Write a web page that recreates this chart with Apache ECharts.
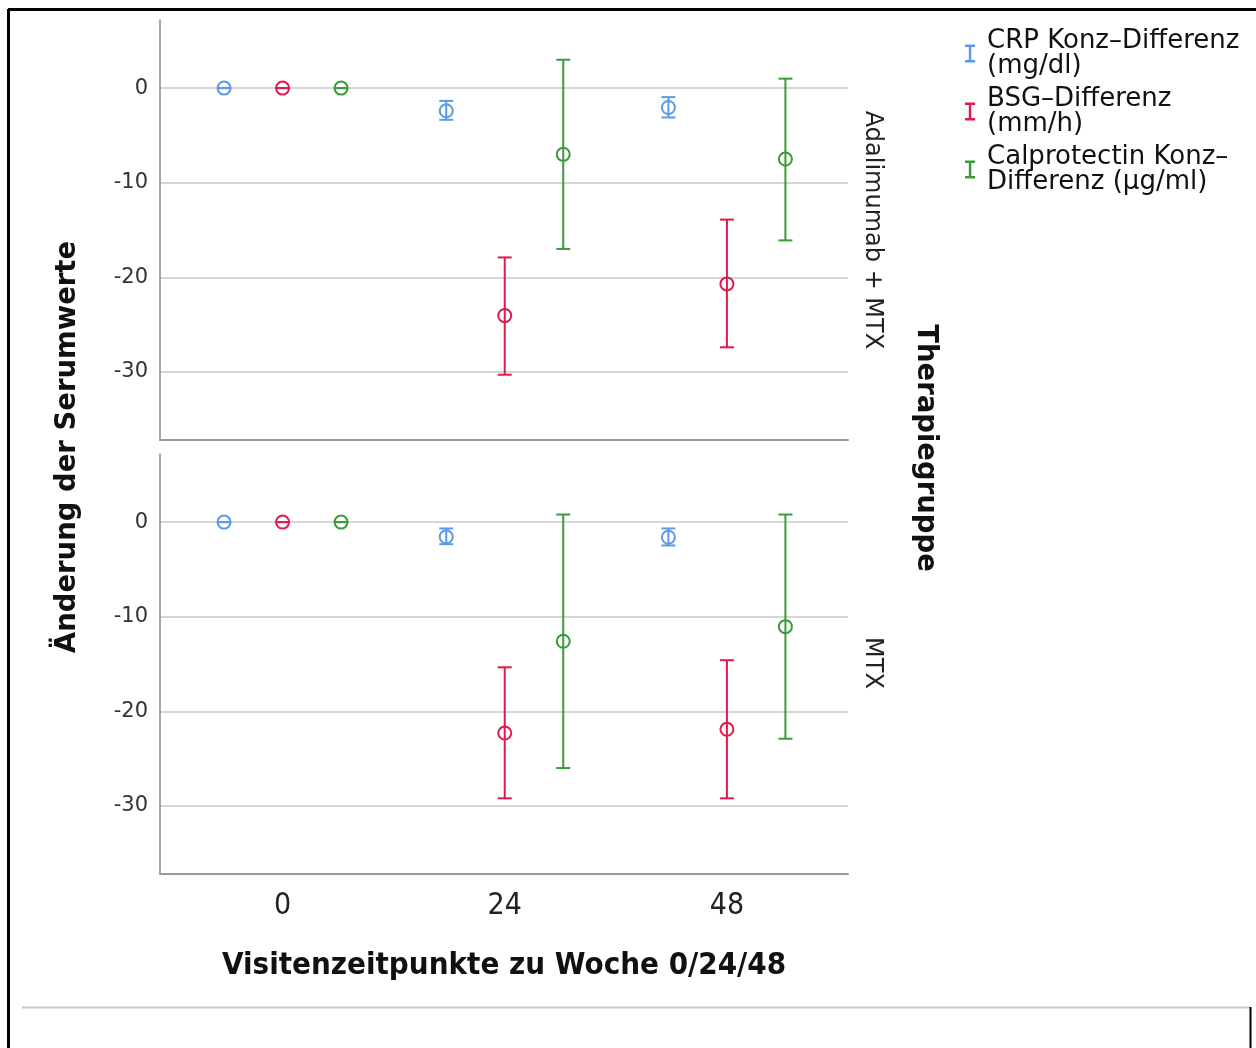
<!DOCTYPE html>
<html lang="de">
<head>
    <meta charset="UTF-8">
    <title>Serumwerte</title>
    <script src="https://cdn.jsdelivr.net/npm/echarts@6/dist/echarts.min.js"></script>
    <style>
        html, body { margin: 0; padding: 0; background: #fff; }
        #chart { width: 1256px; height: 1048px; }
    </style>
</head>
<body>
<div id="chart"></div>
<script type="text/javascript">
    // Wochen
    var weeks = [0, 24, 48];
    var yTicks = [0, -10, -20, -30];
    var xTicks = [0, 24, 48];

    // Adalimumab + MTX: Mittelwert, unteres und oberes Ende des Fehlerbalkens
    var crpAdaMean = [0, -2.4, -2.05];
    var crpAdaLow  = [0, -3.35, -3.1];
    var crpAdaHigh = [0, -1.35, -0.95];
    var bsgAdaMean = [0, -24.05, -20.7];
    var bsgAdaLow  = [0, -30.3, -27.4];
    var bsgAdaHigh = [0, -17.9, -13.9];
    var calAdaMean = [0, -7.0, -7.5];
    var calAdaLow  = [0, -17.0, -16.1];
    var calAdaHigh = [0, 3.0, 1.0];

    // MTX
    var crpMtxMean = [0, -1.55, -1.6];
    var crpMtxLow  = [0, -2.33, -2.47];
    var crpMtxHigh = [0, -0.67, -0.67];
    var bsgMtxMean = [0, -22.3, -21.9];
    var bsgMtxLow  = [0, -29.2, -29.2];
    var bsgMtxHigh = [0, -15.35, -14.6];
    var calMtxMean = [0, -12.6, -11.05];
    var calMtxLow  = [0, -26.0, -22.9];
    var calMtxHigh = [0, 0.8, 0.8];

    var seriesNames = ['CRP', 'BSG', 'Calprotectin'];
    var legendLabels = {
        'CRP': 'CRP Konz\u2013Differenz\n(mg/dl)',
        'BSG': 'BSG\u2013Differenz\n(mm/h)',
        'Calprotectin': 'Calprotectin Konz\u2013\nDifferenz (\u00b5g/ml)'
    };
    var colors = ['#5a9ae6', '#e2194a', '#3b9a3b'];

    var chart = echarts.init(document.getElementById('chart'));

    function rows(mean, low, high) {
        return weeks.map(function (w, i) { return [w, mean[i], low[i], high[i]]; });
    }

    function errSeries(name, color, gridIdx, shift, data) {
        return {
            name: name,
            type: 'custom',
            xAxisIndex: gridIdx,
            yAxisIndex: gridIdx,
            itemStyle: { color: color },
            data: data,
            renderItem: function (params, api) {
                var x = api.value(0);
                var c = api.coord([x, api.value(1)]);
                var lo = api.coord([x, api.value(2)]);
                var hi = api.coord([x, api.value(3)]);
                var cx = c[0] + shift;
                var st = { stroke: color, lineWidth: 2, fill: 'none' };
                return {
                    type: 'group',
                    children: [
                        { type: 'line', shape: { x1: cx, y1: hi[1], x2: cx, y2: lo[1] }, style: st },
                        { type: 'line', shape: { x1: cx - 7, y1: hi[1], x2: cx + 7, y2: hi[1] }, style: st },
                        { type: 'line', shape: { x1: cx - 7, y1: lo[1], x2: cx + 7, y2: lo[1] }, style: st },
                        { type: 'circle', shape: { cx: cx, cy: c[1], r: 6.5 }, style: st }
                    ]
                };
            }
        };
    }

    function yAxisDef(gridIdx) {
        return {
            type: 'value',
            gridIndex: gridIdx,
            min: -37.2,
            max: 7.2,
            axisLine: { show: true, onZero: false, lineStyle: { color: '#888', width: 1.5 } },
            axisTick: { show: false, customValues: yTicks },
            axisLabel: {
                customValues: yTicks,
                fontFamily: 'DejaVu Sans',
                fontSize: 21,
                color: '#333',
                margin: 12
            },
            splitLine: { show: true, lineStyle: { color: '#c8c8c8', width: 1.5 } }
        };
    }

    function xAxisDef(gridIdx, withLabels) {
        var ax = {
            type: 'value',
            gridIndex: gridIdx,
            min: -13.24,
            max: 61.08,
            axisLine: { show: true, onZero: false, lineStyle: { color: '#999', width: 2 } },
            axisTick: { show: false },
            splitLine: { show: false },
            axisLabel: { show: false }
        };
        if (withLabels) {
            ax.axisLabel = {
                show: true,
                customValues: xTicks,
                fontFamily: 'Liberation Sans Narrow, DejaVu Sans Condensed, sans-serif',
                fontSize: 30,
                color: '#222',
                margin: 17
            };
            ax.axisTick = { show: false, customValues: xTicks };
            ax.name = 'Visitenzeitpunkte zu Woche 0/24/48';
            ax.nameLocation = 'middle';
            ax.nameGap = 76;
            ax.nameTextStyle = {
                fontFamily: 'Liberation Sans Narrow, DejaVu Sans Condensed, sans-serif',
                fontWeight: 'bold',
                fontSize: 31,
                color: '#111'
            };
        }
        return ax;
    }

    var shifts = [-58.5, 0, 58.5];

    chart.setOption({
        animation: false,
        grid: [
            { left: 160, top: 20, width: 688, height: 420 },
            { left: 160, top: 454, width: 688, height: 420 }
        ],
        xAxis: [xAxisDef(0, false), xAxisDef(1, true)],
        yAxis: [yAxisDef(0), yAxisDef(1)],
        legend: {
            orient: 'vertical',
            left: 960,
            top: 23,
            itemWidth: 24,
            itemHeight: 18,
            itemGap: 7,
            icon: 'path://M0,0h9v2.2h-3.4v11.6h3.4v2.2h-9v-2.2h3.4v-11.6h-3.4z',
            data: seriesNames,
            formatter: function (n) { return legendLabels[n]; },
            textStyle: {
                fontFamily: 'DejaVu Sans',
                fontSize: 26,
                lineHeight: 25,
                color: '#111'
            }
        },
        graphic: [
            { type: 'line', shape: { x1: 8.5, y1: 9, x2: 8.5, y2: 1048 }, style: { stroke: '#000', lineWidth: 3 } },
            { type: 'line', shape: { x1: 8, y1: 9.5, x2: 1256, y2: 9.5 }, style: { stroke: '#000', lineWidth: 3 } },
            { type: 'line', shape: { x1: 22, y1: 1007.5, x2: 1250, y2: 1007.5 }, style: { stroke: '#c8c8c8', lineWidth: 2 } },
            { type: 'line', shape: { x1: 1250.5, y1: 1007, x2: 1250.5, y2: 1048 }, style: { stroke: '#000', lineWidth: 2 } },
            {
                type: 'text', x: 68, y: 447, rotation: Math.PI / 2,
                style: {
                    text: '\u00c4nderung der Serumwerte', fontFamily: 'DejaVu Sans', fontWeight: 'bold',
                    fontSize: 27.5, fill: '#111', align: 'center', verticalAlign: 'middle'
                }
            },
            {
                type: 'text', x: 925, y: 448, rotation: -Math.PI / 2,
                style: {
                    text: 'Therapiegruppe', fontFamily: 'DejaVu Sans', fontWeight: 'bold',
                    fontSize: 27.5, fill: '#111', align: 'center', verticalAlign: 'middle'
                }
            },
            {
                type: 'text', x: 872, y: 230, rotation: -Math.PI / 2,
                style: {
                    text: 'Adalimumab + MTX', fontFamily: 'DejaVu Sans',
                    fontSize: 24, fill: '#222', align: 'center', verticalAlign: 'middle'
                }
            },
            {
                type: 'text', x: 872, y: 663, rotation: -Math.PI / 2,
                style: {
                    text: 'MTX', fontFamily: 'DejaVu Sans',
                    fontSize: 24, fill: '#222', align: 'center', verticalAlign: 'middle'
                }
            }
        ],
        series: [
            errSeries('CRP', colors[0], 0, shifts[0], rows(crpAdaMean, crpAdaLow, crpAdaHigh)),
            errSeries('BSG', colors[1], 0, shifts[1], rows(bsgAdaMean, bsgAdaLow, bsgAdaHigh)),
            errSeries('Calprotectin', colors[2], 0, shifts[2], rows(calAdaMean, calAdaLow, calAdaHigh)),
            errSeries('CRP', colors[0], 1, shifts[0], rows(crpMtxMean, crpMtxLow, crpMtxHigh)),
            errSeries('BSG', colors[1], 1, shifts[1], rows(bsgMtxMean, bsgMtxLow, bsgMtxHigh)),
            errSeries('Calprotectin', colors[2], 1, shifts[2], rows(calMtxMean, calMtxLow, calMtxHigh))
        ]
    });
</script>
</body>
</html>
